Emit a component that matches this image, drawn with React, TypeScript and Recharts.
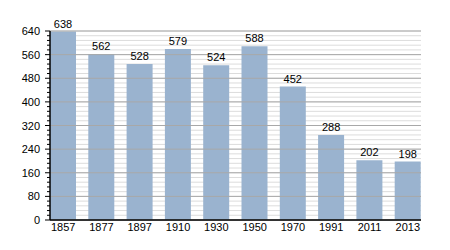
import React from "react";
import { Bar, BarChart, CartesianGrid, LabelList, ReferenceLine, XAxis, YAxis } from "recharts";

const years = ["1857", "1877", "1897", "1910", "1930", "1950", "1970", "1991", "2011", "2013"];
const population = [638, 562, 528, 579, 524, 588, 452, 288, 202, 198];
const majorTicks = [0, 80, 160, 240, 320, 400, 480, 560, 640];
const minorTicks = Array.from({ length: 41 }, (_, i) => i * 16);

const data = years.map((year, i) => ({ year, value: population[i] }));

const font = "'Liberation Sans', Arial, sans-serif";

function YTick(props: any) {
  const { x, y, payload } = props;
  const major = payload.value % 80 === 0;
  return (
    <g>
      <line x1={x + 8 - (major ? 5 : 3)} x2={x + 8} y1={y} y2={y} stroke="#000" strokeWidth={1} />
      {major && (
        <text x={x - 2} y={y} dy={4} textAnchor="end" fontSize={11} fill="#000" fontFamily={font}>
          {payload.value}
        </text>
      )}
    </g>
  );
}

export default function App() {
  return (
    <div style={{ position: "absolute", left: 0, top: 0, width: 450, height: 250, background: "#fff" }}>
      <BarChart width={450} height={250} data={data} margin={{ top: 31, right: 29, left: 0, bottom: 10 }}>
        <CartesianGrid vertical={false} stroke="#dcdcdc" strokeWidth={1} />
        {majorTicks.map((v) => (
          <ReferenceLine key={v} y={v} stroke="#a8a8a8" strokeWidth={1} />
        ))}
        <XAxis
          dataKey="year"
          padding={{ left: -6, right: -6 }}
          axisLine={{ stroke: "#000", strokeWidth: 1.5 }}
          tickLine={false}
          tickSize={1}
          tick={{ fill: "#000", fontSize: 11, fontFamily: font }}
          height={20}
        />
        <YAxis
          domain={[0, 640]}
          ticks={minorTicks}
          interval={0}
          width={50}
          axisLine={{ stroke: "#000", strokeWidth: 1.5 }}
          tickLine={false}
          tick={<YTick />}
        />
        <Bar dataKey="value" fill="#9ab3cf" barSize={26} isAnimationActive={false}>
          <LabelList dataKey="value" position="top" fill="#000" fontSize={11} fontFamily={font} offset={4} />
        </Bar>
      </BarChart>
    </div>
  );
}
